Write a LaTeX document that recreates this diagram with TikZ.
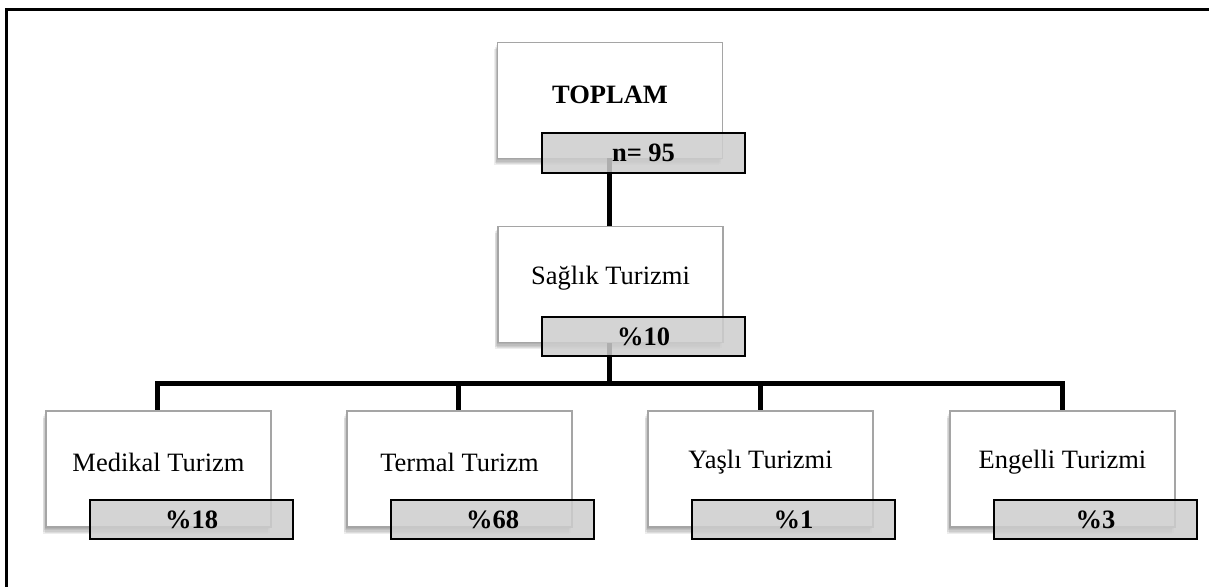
\documentclass[tikz,border=0pt]{standalone}
\usepackage{fontspec}
\setmainfont{Liberation Serif}
\usetikzlibrary{backgrounds}
\definecolor{boxedge}{RGB}{165,165,165}
\definecolor{tagfill}{RGB}{205,205,205}
\tikzset{
  sh/.style 2 args={preaction={fill=black, fill opacity=0.07, draw=none, transform canvas={xshift=#1, yshift=#2}}},
  box/.style={draw=boxedge, line width=1.2pt, fill=white, minimum width=225pt, minimum height=116pt, inner sep=0pt,
    sh={-1pt}{-1.5pt}, sh={-2pt}{-3pt}, sh={-3pt}{-4.5pt}, sh={-1.5pt}{-5.5pt}, sh={-3.5pt}{-6.5pt}},
  tag/.style={draw=black, line width=1.8pt, fill=tagfill, fill opacity=0.85, text opacity=1, minimum width=203pt, minimum height=39.5pt, inner sep=0pt, font=\fontsize{26.5}{30}\selectfont\bfseries},
  txt/.style={font=\fontsize{26.5}{30}\selectfont, inner sep=0pt},
  conn/.style={line width=5pt, draw=black},
}
\begin{document}
\begin{tikzpicture}[x=1pt,y=-1pt]
\useasboundingbox (0,0) rectangle (1209,586);
% frame
\draw[line width=2.5pt] (6.3,590) -- (6.3,9.3) -- (1215,9.3);
% boxes
\node[box] (top) at (610,100.5) {};
\node[box] (sag) at (610.5,284.5) {};
\node[box] (med) at (158.5,469) {};
\node[box] (ter) at (459.5,469) {};
\node[box] (yas) at (760.5,469) {};
\node[box] (eng) at (1062.5,469) {};
% texts
\node[txt, font=\fontsize{26.5}{30}\selectfont\bfseries] (topT) at ([yshift=5.5pt]top.center) {TOPLAM};
\node[txt] (sagT) at ([yshift=6.5pt]sag.center) {Sağlık Turizmi};
\node[txt] (medT) at ([yshift=6.5pt]med.center) {Medikal Turizm};
\node[txt] (terT) at ([yshift=6.5pt]ter.center) {Termal Turizm};
\node[txt] (yasT) at ([yshift=6.5pt]yas.center) {Yaşlı Turizmi};
\node[txt] (engT) at ([yshift=6.5pt]eng.center) {Engelli Turizmi};
% connectors
\coordinate (bus) at (609,383);
\draw[conn] (609,158) -- (sag.north -| 609,0);
\draw[conn] (609,343) -- (bus);
\draw[conn, line cap=rect] (157,383) -- (1062,383);
\draw[conn] (157,383) -- (med.north -| 157,0);
\draw[conn] (458,383) -- (ter.north -| 458,0);
\draw[conn] (760,383) -- (yas.north -| 760,0);
\draw[conn] (1062,383) -- (eng.north -| 1062,0);
% tags
\node[tag] (topN) at ([xshift=33.5pt,yshift=-52.5pt]top.center) {n= 95};
\node[tag] (sagN) at ([xshift=33pt,yshift=-52pt]sag.center) {\%10};
\node[tag] (medN) at ([xshift=33pt,yshift=-50.5pt]med.center) {\%18};
\node[tag] (terN) at ([xshift=33pt,yshift=-50.5pt]ter.center) {\%68};
\node[tag] (yasN) at ([xshift=33pt,yshift=-50.5pt]yas.center) {\%1};
\node[tag] (engN) at ([xshift=33pt,yshift=-50.5pt]eng.center) {\%3};
\end{tikzpicture}
\end{document}
